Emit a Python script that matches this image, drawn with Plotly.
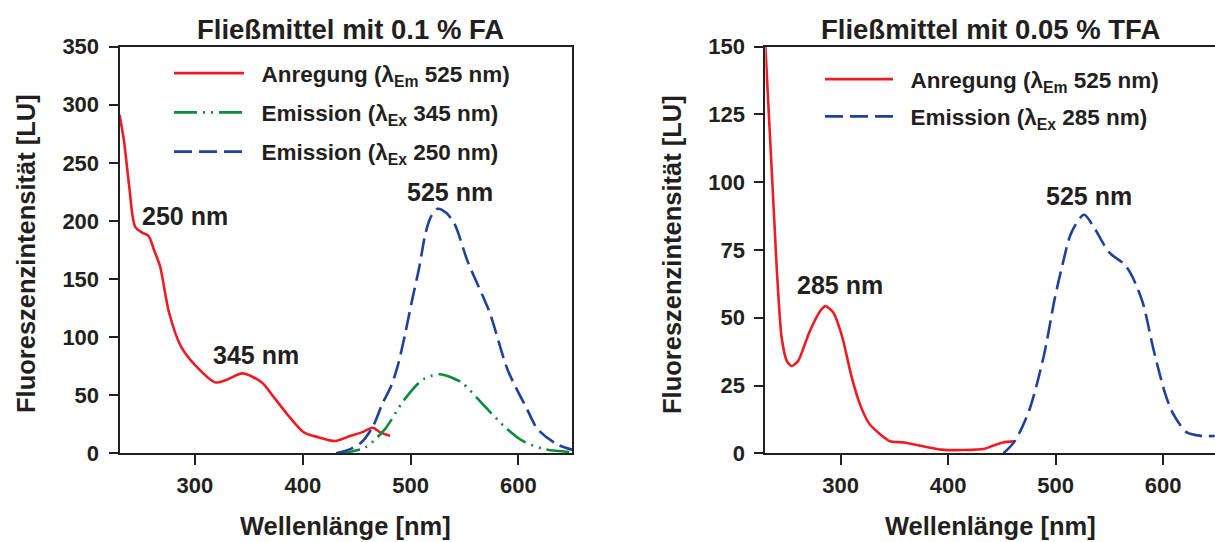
import plotly.graph_objects as go

# ---------------- data ----------------
# Left panel: Fließmittel mit 0.1 % FA
fa_anr_nm = [230, 234, 239, 244.5, 251, 257, 262, 267.6, 276, 287, 301, 319, 330, 344, 362, 372.6, 387, 401, 415, 430, 444, 454.5, 465, 472, 481]
fa_anr_lu = [291.5, 270, 230, 195, 190, 187, 175, 161, 121, 92, 75, 61, 63.6, 68.8, 61, 49, 32, 18, 13.7, 10.6, 14.9, 18, 22, 18, 15]

fa_em345_nm = [432, 445, 458, 476, 494, 511.5, 527, 547, 568.5, 586.5, 604, 625, 650]
fa_em345_lu = [0, 1.5, 5, 20.6, 46, 63.6, 68, 61, 40.7, 23.5, 10.6, 3.4, 1]

fa_em250_nm = [431, 445, 454.5, 465, 474, 482, 488, 495, 501, 508, 514, 519, 525, 533, 541, 553, 573, 590, 608, 618, 636, 650]
fa_em250_lu = [0, 4, 9.5, 23, 43, 58, 75, 103, 130, 160, 190, 204, 210.5, 207, 197, 165, 122, 72, 38, 20.6, 7.7, 3]

# Right panel: Fließmittel mit 0.05 % TFA
tfa_anr_nm = [230, 240.6, 245, 250, 254.3, 260.4, 270.7, 281, 286, 293, 301.4, 310, 318.6, 327, 345.5, 359, 380, 393.5, 414, 434, 441, 451, 461.7]
tfa_anr_lu = [150, 67.8, 43, 34, 32.2, 34, 44.5, 52.5, 54.3, 52, 43, 28.5, 17.4, 10.7, 4.5, 4, 2.3, 1.35, 1.2, 1.7, 2.7, 4, 4.4]

tfa_em285_nm = [451.5, 462, 475.5, 489, 499, 506, 514.6, 526.4, 536.7, 550, 564, 571, 581, 591, 601.5, 608.7, 622, 636, 648]
tfa_em285_lu = [0, 4.5, 16, 36, 56.8, 69, 81.4, 88, 82.6, 74, 69.7, 65.4, 55.6, 38.3, 22.5, 15, 7.7, 6.4, 6.4]

x_ticks = [300, 400, 500, 600]
y_ticks_fa = [0, 50, 100, 150, 200, 250, 300, 350]
y_ticks_tfa = [0, 25, 50, 75, 100, 125, 150]

titles = ["Fließmittel mit 0.1 % FA", "Fließmittel mit 0.05 % TFA"]
x_title = "Wellenlänge [nm]"
y_title = "Fluoreszenzintensität [LU]"
names_fa = ["Anregung (λ<sub>Em</sub> 525 nm)", "Emission (λ<sub>Ex</sub> 345 nm)", "Emission (λ<sub>Ex</sub> 250 nm)"]
names_tfa = ["Anregung (λ<sub>Em</sub> 525 nm)", "Emission (λ<sub>Ex</sub> 285 nm)"]
peak_labels_fa = [("250 nm", 291, 204), ("345 nm", 357, 85), ("525 nm", 537, 225)]
peak_labels_tfa = [("285 nm", 299, 62), ("525 nm", 531, 95)]

# ---------------- style ----------------
W, H = 1215, 542
FONT = "Liberation Sans, Arial, Helvetica, sans-serif"
INK = "#231f20"
RED = "#ED1C24"
GREEN = "#0E8A3E"
BLUE = "#21409A"
LW = 2.6
GAP = "\u00a0\u00a0"  # small spacing between legend sample and label


def px(x):
    return x / W


def py(y):
    return 1 - y / H


fig = go.Figure()

# left panel traces
fig.add_trace(go.Scatter(x=fa_anr_nm, y=fa_anr_lu, mode="lines", name=GAP + names_fa[0],
                         line=dict(color=RED, width=LW, shape="spline", smoothing=0.8),
                         xaxis="x", yaxis="y", legend="legend", legendgroup="a"))
fig.add_trace(go.Scatter(x=fa_em345_nm, y=fa_em345_lu, mode="lines", name=GAP + names_fa[1],
                         line=dict(color=GREEN, width=LW, shape="spline", smoothing=0.8,
                                   dash="23px,6px,2px,6px,2px,6px"),
                         xaxis="x", yaxis="y", legend="legend", legendgroup="b"))
fig.add_trace(go.Scatter(x=fa_em250_nm, y=fa_em250_lu, mode="lines", name=GAP + names_fa[2],
                         line=dict(color=BLUE, width=LW, shape="spline", smoothing=0.8, dash="18px,7px"),
                         xaxis="x", yaxis="y", legend="legend", legendgroup="c"))

# right panel traces
fig.add_trace(go.Scatter(x=tfa_anr_nm, y=tfa_anr_lu, mode="lines", name=GAP + names_tfa[0],
                         line=dict(color=RED, width=LW, shape="spline", smoothing=0.6),
                         xaxis="x2", yaxis="y2", legend="legend2", legendgroup="d"))
fig.add_trace(go.Scatter(x=tfa_em285_nm, y=tfa_em285_lu, mode="lines", name=GAP + names_tfa[1],
                         line=dict(color=BLUE, width=LW, shape="spline", smoothing=0.8, dash="18px,7px"),
                         xaxis="x2", yaxis="y2", legend="legend2", legendgroup="e"))

ydom = [py(453.3), py(46.7)]
axis_common = dict(showline=True, linewidth=2, linecolor=INK, ticks="outside", tickwidth=2,
                   tickcolor=INK, showgrid=False, zeroline=False, automargin=False,
                   tickfont=dict(family=FONT, size=22, color=INK, weight="bold"))

fig.update_layout(
    width=W, height=H, autosize=False,
    margin=dict(l=0, r=0, t=0, b=0, pad=0, autoexpand=False),
    paper_bgcolor="white", plot_bgcolor="white",
    font=dict(family=FONT, color=INK, weight="bold"),
    xaxis=dict(domain=[px(119.5), px(572.3)], range=[230, 650], tickvals=x_ticks, ticklen=10,
               ticklabelstandoff=1, mirror=True, anchor="y", **axis_common),
    yaxis=dict(domain=ydom, range=[0, 350], tickvals=y_ticks_fa, ticklen=9, mirror=True,
               ticklabelstandoff=5, anchor="x", **axis_common),
    xaxis2=dict(domain=[px(765.4), 1.0], range=[230, 648.2], tickvals=x_ticks, ticklen=10,
                ticklabelstandoff=1, mirror=True, anchor="y2", **axis_common),
    yaxis2=dict(domain=ydom, range=[0, 150], tickvals=y_ticks_tfa, ticklen=9, mirror=False,
                ticklabelstandoff=5, anchor="x2", **axis_common),
    legend=dict(x=px(169), y=py(52), xanchor="left", yanchor="top", bgcolor="rgba(0,0,0,0)",
                font=dict(family=FONT, size=22.5, color=INK, weight="bold"),
                itemwidth=70, tracegroupgap=7, traceorder="grouped"),
    legend2=dict(x=px(820), y=py(58), xanchor="left", yanchor="top", bgcolor="rgba(0,0,0,0)",
                 font=dict(family=FONT, size=22.5, color=INK, weight="bold"),
                 itemwidth=68, tracegroupgap=5, traceorder="grouped"),
    showlegend=True,
)

ann = []
# panel titles
for txt, cx in zip(titles, [350, 990]):
    ann.append(dict(text=txt, x=px(cx), y=py(29), xref="paper", yref="paper", showarrow=False,
                    xanchor="center", yanchor="middle",
                    font=dict(family=FONT, size=27.5, color=INK, weight="bold")))
# axis titles
for cx in [345, 990]:
    ann.append(dict(text=x_title, x=px(cx), y=py(526), xref="paper", yref="paper", showarrow=False,
                    xanchor="center", yanchor="middle",
                    font=dict(family=FONT, size=25.5, color=INK, weight="bold")))
for cx in [26, 672]:
    ann.append(dict(text=y_title, x=px(cx), y=py(254), xref="paper", yref="paper", showarrow=False,
                    xanchor="center", yanchor="middle", textangle=-90,
                    font=dict(family=FONT, size=25.5, color=INK, weight="bold")))
# peak labels
for txt, xv, yv in peak_labels_fa:
    ann.append(dict(text=txt, x=xv, y=yv, xref="x", yref="y", showarrow=False,
                    font=dict(family=FONT, size=25, color=INK, weight="bold")))
for txt, xv, yv in peak_labels_tfa:
    ann.append(dict(text=txt, x=xv, y=yv, xref="x2", yref="y2", showarrow=False,
                    font=dict(family=FONT, size=25, color=INK, weight="bold")))
fig.update_layout(annotations=ann)

fig.write_html("out.html", config={"displayModeBar": False},
               post_script="document.body.style.margin='0';document.body.style.padding='0';")
